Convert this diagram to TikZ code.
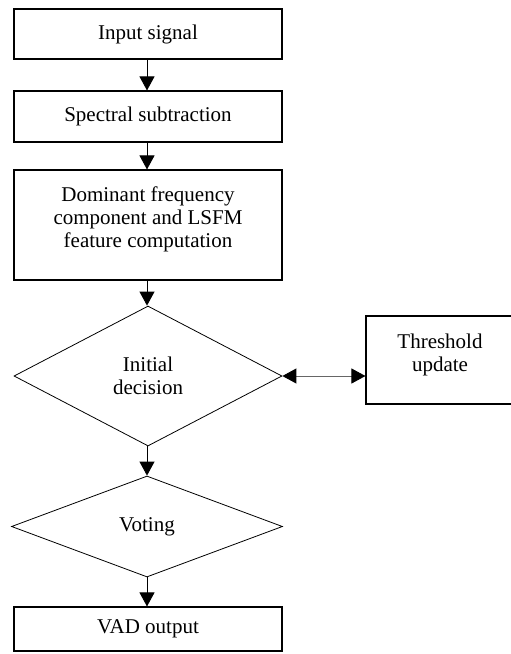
\documentclass[tikz,border=0pt]{standalone}
\usepackage{fontspec}
\setmainfont{Liberation Serif}
\usetikzlibrary{shapes.geometric,arrows.meta}
\begin{document}
\begin{tikzpicture}[x=1pt,y=-1pt,
  every node/.style={font=\fontsize{21}{23}\selectfont, align=center},
  box/.style={draw=black, line width=1.1pt, rectangle, inner sep=0pt, minimum width=268pt},
  dia/.style={draw=black, line width=0.8pt, diamond, inner sep=0pt, aspect=1.9},
  arr/.style={line width=0.9pt, -{Triangle[length=14pt,width=15pt]}},
  darr/.style={line width=0.9pt, draw=black!60, {Triangle[length=14pt,width=15pt,color=black]}-{Triangle[length=14pt,width=15pt,color=black]}}
]
\useasboundingbox (0,0) rectangle (511,654);
\node[box, minimum height=50pt] (in) at (148,34) {Input signal};
\node[box, minimum height=51pt] (spec) at (148,116.5) {Spectral subtraction};
\node[box, minimum height=110pt] (dom) at (148,225) {};
\node (domt) at (148,219) {Dominant frequency\\component and LSFM\\feature computation};
\node[dia, minimum width=268pt, minimum height=140pt] (init) at (148,376) {Initial\\decision};
\node[box, minimum width=148pt, minimum height=88pt] (thr) at (440,360) {};
\node (thrt) at (440,355) {Threshold\\update};
\node[dia, minimum width=271pt, minimum height=101pt] (vote) at (147,526.5) {Voting};
\node[box, minimum height=44pt] (vad) at (148,629) {VAD output};
\draw[arr] (in.south -| 147,0) -- (spec.north -| 147,0);
\draw[arr] (spec.south -| 147,0) -- (dom.north -| 147,0);
\draw[arr] (dom.south -| 147,0) -- (init.north -| 147,0);
\draw[arr] (init.south -| 147,0) -- (vote.north);
\draw[arr] (vote.south) -- (vad.north -| 147,0);
\draw[darr] (init.east) -- (init.east -| thr.west);
\end{tikzpicture}
\end{document}
